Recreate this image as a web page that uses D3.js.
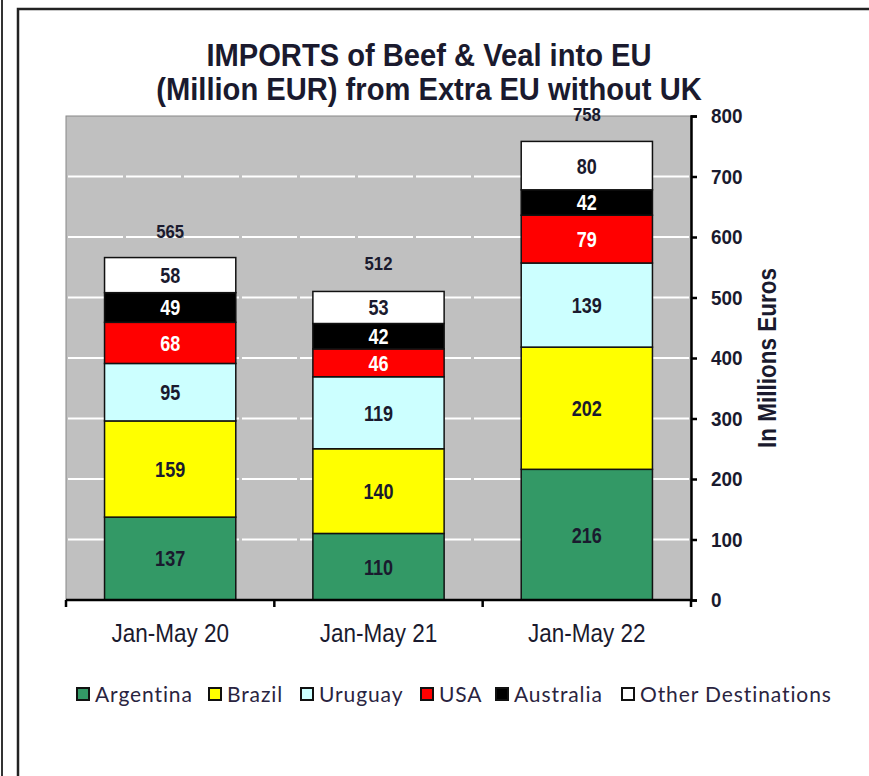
<!DOCTYPE html>
<html>
<head>
<meta charset="utf-8">
<script src="https://cdn.jsdelivr.net/npm/d3@7"></script>
<style>
  body { margin: 0; background: #fff; }
  svg { display: block; }
  .narrow { font-family: "Liberation Sans Narrow", "Arial Narrow", "Liberation Sans", sans-serif; }
  .legend { font-family: Lato, "Noto Sans", sans-serif; }
</style>
</head>
<body>
<div id="chart"></div>
<script>
/* Data */
const categories = ["Jan-May 20", "Jan-May 21", "Jan-May 22"];
const seriesNames = ["Argentina", "Brazil", "Uruguay", "USA", "Australia", "Other Destinations"];
const argentina = [137, 110, 216];
const brazil = [159, 140, 202];
const uruguay = [95, 119, 139];
const usa = [68, 46, 79];
const australia = [49, 42, 42];
const other = [58, 53, 80];
const totals = [565, 512, 758];
const yTicks = [0, 100, 200, 300, 400, 500, 600, 700, 800];

const colors = ["#339966", "#ffff00", "#ccffff", "#ff0000", "#000000", "#ffffff"];
const labelColors = ["#1a1a2e", "#1a1a2e", "#1a1a2e", "#ffffff", "#ffffff", "#1a1a2e"];

/* Dimensions */
const W = 869, H = 776;
const plot = { left: 66, right: 691, top: 116, bottom: 600 };
const ink = "#1a1a2e";

// squeezes text horizontally to mimic a narrow font
function narrow(x, y, s) {
  return "translate(" + x + "," + y + ") scale(" + s + ",1)";
}

const svg = d3.select("#chart").append("svg")
  .attr("width", W)
  .attr("height", H);

// outer frames
svg.append("line")
  .attr("x1", 2).attr("x2", 2).attr("y1", 0).attr("y2", H)
  .attr("stroke", "#333").attr("stroke-width", 2);
svg.append("path")
  .attr("d", "M18," + H + "V9H" + W)
  .attr("fill", "none").attr("stroke", "#222").attr("stroke-width", 2.5);

// Scales
const x = d3.scaleBand()
  .domain(categories)
  .range([plot.left, plot.right])
  .paddingInner(0.37)
  .paddingOuter(0.185);

const y = d3.scaleLinear()
  .domain([0, 800])
  .range([plot.bottom, plot.top]);

// plot background
svg.append("rect")
  .attr("x", plot.left).attr("y", plot.top)
  .attr("width", plot.right - plot.left).attr("height", plot.bottom - plot.top)
  .attr("fill", "#c0c0c0")
  .attr("stroke", "#888").attr("stroke-width", 1);

// gridlines
svg.append("g").selectAll("line")
  .data(yTicks.filter(d => d > 0 && d < 800))
  .join("line")
    .attr("x1", plot.left + 2).attr("x2", plot.right - 2)
    .attr("y1", d => y(d)).attr("y2", d => y(d))
    .attr("stroke", "#ffffff").attr("stroke-width", 2)
    .attr("stroke-dasharray", "55,3");

// Stack
const rows = categories.map((c, i) => ({
  cat: c,
  Argentina: argentina[i], Brazil: brazil[i], Uruguay: uruguay[i],
  USA: usa[i], Australia: australia[i], "Other Destinations": other[i]
}));
const stacked = d3.stack().keys(seriesNames)(rows);

const layers = svg.append("g").selectAll("g")
  .data(stacked)
  .join("g")
    .attr("fill", (d, i) => colors[i]);

layers.selectAll("rect")
  .data(d => d)
  .join("rect")
    .attr("x", d => x(d.data.cat))
    .attr("y", d => y(d[1]))
    .attr("width", x.bandwidth())
    .attr("height", d => y(d[0]) - y(d[1]))
    .attr("stroke", "#111").attr("stroke-width", 1.5);

// segment labels
stacked.forEach((layer, i) => {
  svg.append("g").selectAll("text")
    .data(layer)
    .join("text")
      .attr("class", "narrow")
      .attr("transform", d => narrow(x(d.data.cat) + x.bandwidth() / 2, (y(d[0]) + y(d[1])) / 2, 0.82))
      .attr("dy", "0.36em")
      .attr("text-anchor", "middle")
      .attr("font-size", 22).attr("font-weight", "bold")
      .attr("fill", labelColors[i])
      .text(d => d[1] - d[0]);
});

// total labels
svg.append("g").selectAll("text")
  .data(categories)
  .join("text")
    .attr("class", "narrow")
    .attr("transform", (d, i) => narrow(x(d) + x.bandwidth() / 2, y(totals[i]) - 27, 0.88))
    .attr("dy", "0.36em")
    .attr("text-anchor", "middle")
    .attr("font-size", 19).attr("font-weight", "bold")
    .attr("fill", ink)
    .text((d, i) => totals[i]);

// right axis
const yAxis = svg.append("g")
  .attr("class", "narrow")
  .attr("transform", "translate(" + plot.right + ",0)")
  .call(d3.axisRight(y).tickValues(yTicks).tickSize(6).tickPadding(14));
yAxis.select(".domain").attr("stroke", "#000").attr("stroke-width", 2.5);
yAxis.selectAll(".tick line").attr("stroke", "#000").attr("stroke-width", 2.5);
yAxis.selectAll("text")
  .attr("font-size", 21).attr("font-weight", "bold").attr("fill", ink)
  .attr("transform", "translate(20,0) scale(0.9,1) translate(-20,0)");

// bottom axis
svg.append("line")
  .attr("x1", plot.left).attr("x2", plot.right)
  .attr("y1", plot.bottom).attr("y2", plot.bottom)
  .attr("stroke", "#000").attr("stroke-width", 2.5);
const bounds = [plot.left].concat(categories.map(c => x(c) + x.bandwidth() + x.step() * x.paddingInner() / 2));
bounds[bounds.length - 1] = plot.right;
svg.append("g").selectAll("line")
  .data(bounds)
  .join("line")
    .attr("x1", d => d).attr("x2", d => d)
    .attr("y1", plot.bottom).attr("y2", plot.bottom + 7)
    .attr("stroke", "#000").attr("stroke-width", 2.5);
svg.append("g").selectAll("text")
  .data(categories)
  .join("text")
    .attr("class", "narrow")
    .attr("transform", d => narrow(x(d) + x.bandwidth() / 2, 633, 0.9))
    .attr("dy", "0.35em")
    .attr("text-anchor", "middle")
    .attr("font-size", 25)
    .attr("fill", ink)
    .text(d => d);

// axis title
svg.append("text")
  .attr("class", "narrow")
  .attr("transform", "translate(767,358) rotate(-90) scale(0.9,1)")
  .attr("dy", "0.35em")
  .attr("text-anchor", "middle")
  .attr("font-size", 25).attr("font-weight", "bold")
  .attr("fill", ink)
  .text("In Millions Euros");

// title, one text per line
const titleLines = ["IMPORTS of Beef & Veal into EU", "(Million EUR) from Extra EU without UK"];
svg.append("g").selectAll("text")
  .data(titleLines)
  .join("text")
    .attr("class", "narrow")
    .attr("transform", (d, i) => narrow(429, 66 + i * 34, 0.94))
    .attr("text-anchor", "middle")
    .attr("font-size", 31).attr("font-weight", "bold")
    .attr("fill", ink)
    .text(d => d);

// legend
const legendX = [77, 209, 301, 421, 496, 622];
const legend = svg.append("g").attr("class", "legend");
seriesNames.forEach((name, i) => {
  legend.append("rect")
    .attr("x", legendX[i]).attr("y", 688)
    .attr("width", 12).attr("height", 12)
    .attr("fill", colors[i])
    .attr("stroke", "#111").attr("stroke-width", 2);
  legend.append("text")
    .attr("x", legendX[i] + 18).attr("y", 695)
    .attr("dy", "0.35em")
    .attr("font-size", 21)
    .attr("letter-spacing", 0.9)
    .attr("fill", "#2a2440")
    .text(name);
});
</script>
</body>
</html>
